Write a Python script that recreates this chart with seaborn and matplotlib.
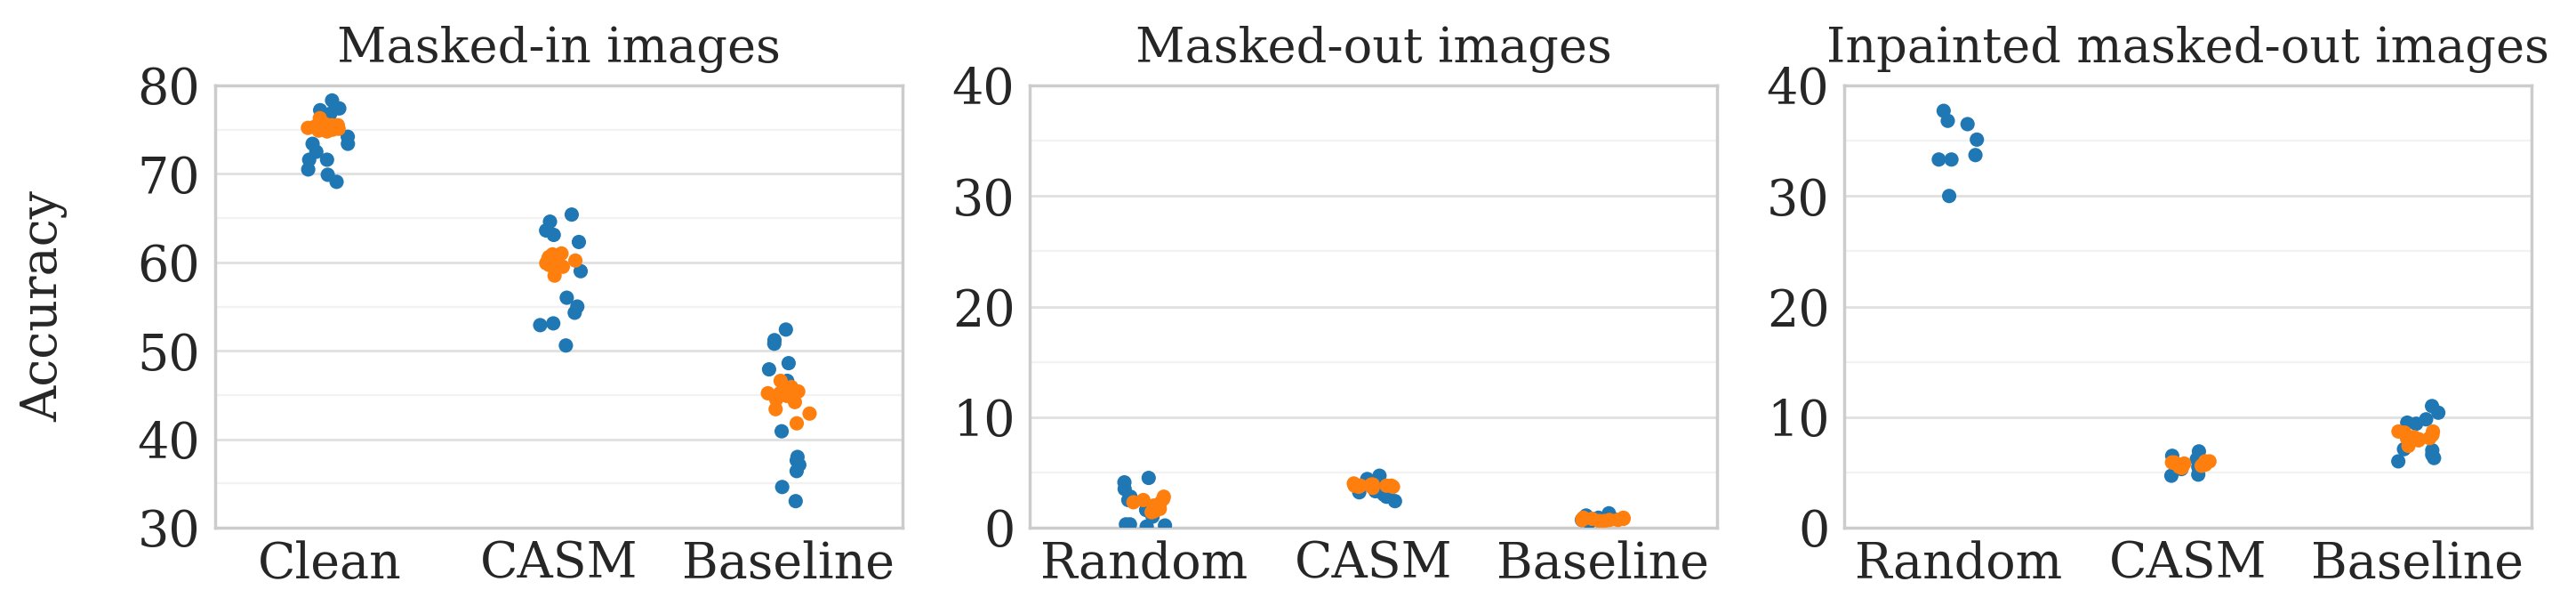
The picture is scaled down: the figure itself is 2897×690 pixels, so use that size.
import numpy as np
import pandas as pd
import matplotlib
matplotlib.use("Agg")
import matplotlib.pyplot as plt
from matplotlib.ticker import MultipleLocator
import seaborn as sns

# ---------------- data ----------------
titles = ["Masked-in images", "Masked-out images", "Inpainted masked-out images"]
cats_in = ["Clean", "CASM", "Baseline"]
cats_out = ["Random", "CASM", "Baseline"]
series = ["A", "B"]  # blue, orange

# Masked-in images
in_clean_a = [78.3, 77.4, 77.2, 76.8, 74.2, 73.4, 73.4, 72.5, 71.6, 71.6, 70.5, 69.9, 69.1]
in_clean_b = [75.4, 75.5, 75.3, 75.2, 75.0, 74.9, 75.6, 76.3, 75.1, 74.8, 75.3, 75.5]
in_casm_a = [65.4, 64.6, 63.6, 63.1, 62.3, 59.0, 56.0, 55.0, 54.3, 53.1, 52.9, 50.6]
in_casm_b = [61.0, 60.9, 59.9, 58.5, 59.8, 60.4, 59.7, 60.0, 60.2, 59.5, 60.6, 60.1]
in_base_a = [52.4, 51.2, 50.8, 48.6, 47.9, 46.6, 40.9, 38.0, 37.1, 37.6, 36.4, 34.6, 33.0]
in_base_b = [46.6, 45.9, 45.2, 45.0, 45.2, 44.5, 42.9, 43.4, 41.8, 44.2, 45.4, 44.9]

# Masked-out images
out_rand_a = [4.5, 4.1, 3.5, 2.8, 2.5, 0.3, 0.2, 0.1, 0.3, 0.2, 1.0, 1.6]
out_rand_b = [2.0, 2.3, 2.8, 1.7, 1.5, 2.5, 2.2, 1.8, 1.4, 2.6]
out_casm_a = [4.7, 4.4, 4.0, 3.6, 3.2, 3.0, 2.8, 2.4, 3.5, 3.3]
out_casm_b = [3.8, 3.9, 3.7, 3.8, 3.6, 3.9, 3.8, 3.7, 4.0, 3.8]
out_base_a = [1.3, 1.1, 0.9, 0.7, 0.5, 0.8, 1.0, 0.6]
out_base_b = [0.8, 0.7, 0.9, 0.6, 0.8, 0.7, 0.9, 0.8, 0.6, 0.7]

# Inpainted masked-out images
inp_rand_a = [37.7, 36.8, 36.5, 35.1, 33.3, 33.3, 33.7, 30.0]
inp_rand_b = []
inp_casm_a = [6.9, 6.5, 6.2, 5.8, 5.5, 5.3, 4.8, 4.7]
inp_casm_b = [5.5, 5.8, 6.0, 5.9, 5.7, 5.6, 6.0, 5.4, 5.9, 5.8]
inp_base_a = [11.0, 10.4, 9.8, 9.4, 9.5, 7.0, 6.3, 6.0, 7.1, 6.6]
inp_base_b = [8.7, 7.4, 8.1, 8.2, 8.0, 8.7, 8.4, 7.9, 8.1, 8.6]

panel_data = [
    (cats_in, [(in_clean_a, in_clean_b), (in_casm_a, in_casm_b), (in_base_a, in_base_b)]),
    (cats_out, [(out_rand_a, out_rand_b), (out_casm_a, out_casm_b), (out_base_a, out_base_b)]),
    (cats_out, [(inp_rand_a, inp_rand_b), (inp_casm_a, inp_casm_b), (inp_base_a, inp_base_b)]),
]
ylims = [(30, 80), (0, 40), (0, 40)]


def build_frame(cats, groups):
    rows = []
    for cat, (a, b) in zip(cats, groups):
        for v in a:
            rows.append((cat, series[0], v))
        for v in b:
            rows.append((cat, series[1], v))
    return pd.DataFrame(rows, columns=["method", "series", "accuracy"])


# ---------------- style ----------------
sns.set_theme(style="whitegrid", font="serif")
TICK_FS = 20
TITLE_FS = 19.5
plt.rcParams.update({
    "font.family": ["DejaVu Serif"],
    "axes.edgecolor": "#cccccc",
    "axes.linewidth": 1.25,
    "grid.color": "#e0e0e0",
    "grid.linewidth": 1.0,
    "text.color": "#262626",
    "xtick.color": "#262626",
    "ytick.color": "#262626",
})

fig, axes = plt.subplots(1, 3, figsize=(2897 / 200, 690 / 200), dpi=200)
fig.subplots_adjust(left=242 / 2897, right=2847 / 2897, bottom=1 - 593 / 690,
                    top=1 - 96 / 690, wspace=0.185)

palette = ["#1f77b4", "#ff7f0e"]
np.random.seed(3)
for i, ax in enumerate(axes):
    cats, groups = panel_data[i]
    df = build_frame(cats, groups)
    sns.stripplot(data=df, x="method", y="accuracy", hue="series", order=cats,
                  hue_order=series, palette=palette, size=5.8, jitter=True,
                  legend=False, ax=ax)
    ax.set_ylim(*ylims[i])
    ax.set_xlim(-0.5, 2.5)
    ax.yaxis.set_major_locator(MultipleLocator(10))
    ax.yaxis.set_minor_locator(MultipleLocator(5))
    ax.set_axisbelow(True)
    ax.grid(which="major", axis="y", color="#e0e0e0", linewidth=1.0)
    ax.grid(which="minor", axis="y", color="#f2f2f2", linewidth=0.8)
    ax.xaxis.grid(False)
    ax.tick_params(axis="both", which="both", length=0, labelsize=TICK_FS)
    ax.tick_params(axis="x", pad=5)
    ax.tick_params(axis="y", pad=6)
    ax.set_title(titles[i], fontsize=TITLE_FS, pad=9.2)
    ax.set_xlabel("")
    ax.set_ylabel("")
    for s in ax.spines.values():
        s.set_color("#cccccc")
        s.set_linewidth(1.25)

axes[0].set_ylabel("Accuracy", fontsize=TICK_FS, va="center")
axes[0].yaxis.set_label_coords((49 - 242) / 773, 0.5)

fig.savefig("out.png", dpi=200)
